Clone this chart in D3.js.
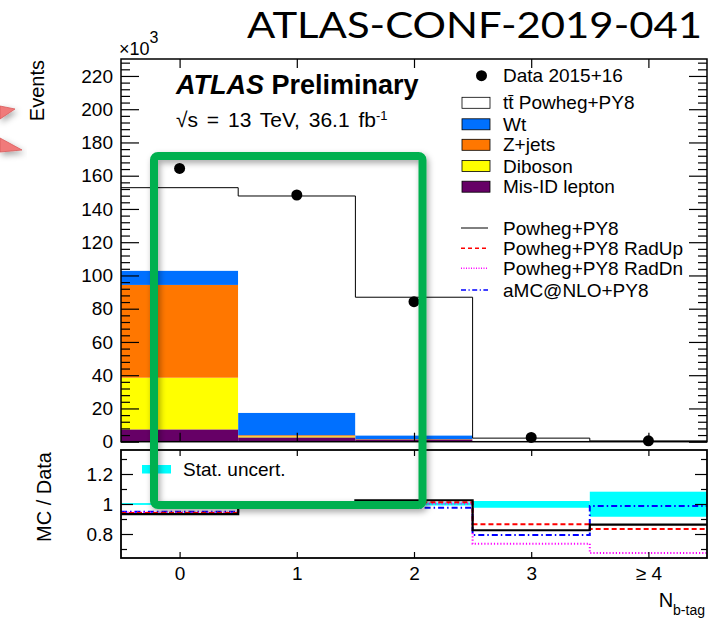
<!DOCTYPE html>
<html>
<head>
<meta charset="utf-8">
<script src="https://cdn.jsdelivr.net/npm/d3@7"></script>
<style>
  html, body { margin: 0; padding: 0; background: #fff; }
  svg { display: block; }
  text { font-family: "Liberation Sans", Arial, Helvetica, sans-serif; fill: #000; }
</style>
</head>
<body>
<svg id="chart" width="718" height="619"></svg>
<script>
// b-tag multiplicity bins
const bins = [0, 1, 2, 3, 4];
const binLabels = ["0", "1", "2", "3", "\u2265 4"];

// Event yields, in units of 10^3
const dataEvents = [164.4, 148.4, 84.2, 2.6, 0.55];
const ttbar      = [49.9, 130.4, 83.1, 1.75, 0.37];
const wt         = [8.6, 13.5, 2.2, 0.3, 0.08];
const zjets      = [55.8, 0.7, 0.1, 0.03, 0.01];
const diboson    = [31.1, 0.6, 0.1, 0.02, 0.0];
const misid      = [7.4, 2.6, 1.4, 0.05, 0.01];

// MC / Data ratios
const ratioPowheg = [0.933, 0.996, 1.025, 0.825, 0.862];
const ratioRadUp  = [0.940, 1.000, 1.011, 0.865, 0.833];
const ratioRadDn  = [0.943, 0.990, 1.004, 0.735, 0.673];
const ratioAMC    = [0.949, 0.985, 0.975, 0.793, 0.987];
const statLo      = [0.994, 0.992, 0.990, 0.975, 0.915];
const statHi      = [1.006, 1.008, 1.010, 1.020, 1.082];

// axis ticks
const yMajor = d3.range(0, 221, 20);
const yMinor = d3.range(0, 231, 4).filter(v => v % 20 !== 0);
const rMajor = [0.8, 1.0, 1.2];
const rMinor = [0.7, 0.9, 1.1, 1.3];

const svg = d3.select("#chart");
const defs = svg.append("defs");
const shadow = defs.append("filter").attr("id", "shadow")
  .attr("x", "-20%").attr("y", "-20%").attr("width", "140%").attr("height", "140%");
shadow.append("feDropShadow").attr("dx", 2).attr("dy", 3)
  .attr("stdDeviation", 3).attr("flood-color", "#000").attr("flood-opacity", 0.35);

const L = 121, R = 707;
const mainTop = 59, mainBot = 441.7;
const ratTop = 450, ratBot = 558;

const x = d3.scaleLinear().domain([-0.5, 4.5]).range([L, R]);
const y = d3.scaleLinear().domain([0, 230.2]).range([mainBot, mainTop]);
const yr = d3.scaleLinear().domain([0.64, 1.36]).range([ratBot, ratTop]);

// ---- title
svg.append("text")
  .attr("x", 247).attr("y", 37.5)
  .attr("textLength", 455).attr("lengthAdjust", "spacingAndGlyphs")
  .style("font-family", "Lato, 'Open Sans', sans-serif")
  .style("font-size", "37px")
  .text("ATLAS-CONF-2019-041");

// ---- decorative arrow fragments at the left edge
const arrowG = svg.append("g").attr("filter", "url(#shadow)");
arrowG.append("polygon").attr("points", "0,106 15,109 0,119")
  .attr("fill", "#f07a7a").attr("stroke", "#d85c5c").attr("stroke-width", 0.8);
arrowG.append("polygon").attr("points", "0,138 22,150 0,152")
  .attr("fill", "#f07a7a").attr("stroke", "#d85c5c").attr("stroke-width", 0.8);

// ---- main panel: stacked histogram
const stackRows = bins.map((b, i) => ({
  bin: b, misid: misid[i], diboson: diboson[i], zjets: zjets[i], wt: wt[i], ttbar: ttbar[i]
}));
const keys = ["misid", "diboson", "zjets", "wt", "ttbar"];
const colors = { misid: "#660066", diboson: "#ffff00", zjets: "#ff7700", wt: "#0070ff", ttbar: "#ffffff" };
const series = d3.stack().keys(keys)(stackRows);

const main = svg.append("g");
series.forEach(s => {
  main.selectAll(null).data(s).enter().append("rect")
    .attr("x", d => x(d.data.bin - 0.5))
    .attr("width", d => x(d.data.bin + 0.5) - x(d.data.bin - 0.5))
    .attr("y", d => y(d[1]))
    .attr("height", d => Math.max(0, y(d[0]) - y(d[1])))
    .attr("fill", colors[s.key]);
});

// total MC outline
const total = bins.map((b, i) => misid[i] + diboson[i] + zjets[i] + wt[i] + ttbar[i]);
function stepPoints(vals, sc) {
  const pts = [];
  bins.forEach((b, i) => { pts.push([x(b - 0.5), sc(vals[i])]); pts.push([x(b + 0.5), sc(vals[i])]); });
  return pts;
}
main.append("path").attr("d", d3.line()(stepPoints(total, y)))
  .attr("fill", "none").attr("stroke", "#000").attr("stroke-width", 1);

// data points
main.selectAll(null).data(bins).enter().append("circle")
  .attr("cx", b => x(b)).attr("cy", (b, i) => y(dataEvents[i])).attr("r", 5.5)
  .attr("fill", "#000");

// main frame
svg.append("rect").attr("x", L).attr("y", mainTop).attr("width", R - L).attr("height", mainBot - mainTop)
  .attr("fill", "none").attr("stroke", "#000").attr("stroke-width", 1.5);

// main axes
function styleAxis(g) {
  g.select(".domain").remove();
  g.selectAll(".tick line").attr("stroke", "#000").attr("stroke-width", 1.2);
  g.selectAll(".tick text").style("font-size", "19px")
    .style("font-family", "'Liberation Sans', Arial, sans-serif");
}
svg.append("g").attr("transform", `translate(${L},0)`)
  .call(d3.axisLeft(y).tickValues(yMajor).tickSize(-18).tickPadding(8)).call(styleAxis);
svg.append("g").attr("transform", `translate(${L},0)`)
  .call(d3.axisLeft(y).tickValues(yMinor).tickSize(-9).tickFormat("")).call(styleAxis);
svg.append("g").attr("transform", `translate(${R},0)`)
  .call(d3.axisRight(y).tickValues(yMajor).tickSize(-18).tickFormat("")).call(styleAxis);
svg.append("g").attr("transform", `translate(${R},0)`)
  .call(d3.axisRight(y).tickValues(yMinor).tickSize(-9).tickFormat("")).call(styleAxis);
svg.append("g").attr("transform", `translate(0,${mainTop})`)
  .call(d3.axisBottom(x).tickValues(bins).tickSize(9).tickFormat("")).call(styleAxis);
svg.append("g").attr("transform", `translate(0,${mainBot})`)
  .call(d3.axisTop(x).tickValues(bins).tickSize(9).tickFormat("")).call(styleAxis);

// ×10^3
const mult = svg.append("text").attr("x", 119).attr("y", 54.5).style("font-size", "18px");
mult.append("tspan").text("\u00d710");
mult.append("tspan").attr("dy", -12).style("font-size", "16px").text("3");

// y title
svg.append("text").attr("transform", "translate(44,60) rotate(-90)")
  .attr("text-anchor", "end").style("font-size", "20px").text("Events");

// ATLAS label
const atl = svg.append("text").attr("x", 176).attr("y", 93.5).style("font-size", "27px").style("font-weight", "bold");
atl.append("tspan").style("font-style", "italic").text("ATLAS");
atl.append("tspan").text(" Preliminary");
const lum = svg.append("text").attr("x", 176).attr("y", 126.5)
  .style("font-size", "21px").style("word-spacing", "3px");
lum.append("tspan").text("\u221as = 13 TeV, 36.1 fb");
lum.append("tspan").attr("dy", -7).style("font-size", "13px").text("-1");

// ---- legend (samples)
const lgX = 462, lgTextX = 503;
svg.append("circle").attr("cx", 481.5).attr("cy", 75.7).attr("r", 5.5).attr("fill", "#000");
svg.append("text").attr("x", lgTextX).attr("y", 82.3).style("font-size", "19px").text("Data 2015+16");

const legendSamples = [
  { key: "ttbar", label: "t\u0074\u0304 Powheg+PY8", cy: 102.8 },
  { key: "wt", label: "Wt", cy: 124.3 },
  { key: "zjets", label: "Z+jets", cy: 144.8 },
  { key: "diboson", label: "Diboson", cy: 166 },
  { key: "misid", label: "Mis-ID lepton", cy: 186.7 }
];
legendSamples.forEach(e => {
  svg.append("rect").attr("x", lgX).attr("y", e.cy - 5.5).attr("width", 28).attr("height", 11)
    .attr("fill", colors[e.key]).attr("stroke", "#000").attr("stroke-width", 0.8);
  svg.append("text").attr("x", lgTextX).attr("y", e.cy + 6.5).style("font-size", "19px").text(e.label);
});

// ---- legend (generators)
const legendGen = [
  { label: "Powheg+PY8", color: "#000", dash: null, cy: 228, w: 1 },
  { label: "Powheg+PY8 RadUp", color: "#ff0000", dash: "4,3", cy: 248.3, w: 1.5 },
  { label: "Powheg+PY8 RadDn", color: "#ff00ff", dash: "1,1.5", cy: 268.3, w: 1.5 },
  { label: "aMC@NLO+PY8", color: "#0000ff", dash: "5,2.5,1.2,2.5", cy: 290, w: 1.5 }
];
legendGen.forEach(e => {
  svg.append("line").attr("x1", 461).attr("x2", 488).attr("y1", e.cy).attr("y2", e.cy)
    .attr("stroke", e.color).attr("stroke-width", e.w).attr("stroke-dasharray", e.dash);
  svg.append("text").attr("x", lgTextX).attr("y", e.cy + 7).style("font-size", "19px").text(e.label);
});

// ---- ratio panel
const rat = svg.append("g");
rat.selectAll(null).data(bins).enter().append("rect")
  .attr("x", b => x(b - 0.5)).attr("width", b => x(b + 0.5) - x(b - 0.5))
  .attr("y", (b, i) => yr(statHi[i])).attr("height", (b, i) => yr(statLo[i]) - yr(statHi[i]))
  .attr("fill", "#00ffff");

const ratioLines = [
  { vals: ratioAMC, color: "#0000ff", dash: "6,3,1.5,3", w: 2 },
  { vals: ratioRadDn, color: "#ff00ff", dash: "1.2,2", w: 2 },
  { vals: ratioRadUp, color: "#ff0000", dash: "5,3", w: 2 },
  { vals: ratioPowheg, color: "#000", dash: null, w: 2.2 }
];
ratioLines.forEach(l => {
  rat.append("path").attr("d", d3.line()(stepPoints(l.vals, yr)))
    .attr("fill", "none").attr("stroke", l.color).attr("stroke-width", l.w)
    .attr("stroke-dasharray", l.dash);
});

svg.append("rect").attr("x", L).attr("y", ratTop).attr("width", R - L).attr("height", ratBot - ratTop)
  .attr("fill", "none").attr("stroke", "#000").attr("stroke-width", 1.8);

svg.append("g").attr("transform", `translate(${L},0)`)
  .call(d3.axisLeft(yr).tickValues(rMajor).tickSize(-12).tickPadding(8)
    .tickFormat(d => d === 1 ? "1" : d3.format(".1f")(d))).call(styleAxis);
svg.append("g").attr("transform", `translate(${L},0)`)
  .call(d3.axisLeft(yr).tickValues(rMinor).tickSize(-6).tickFormat("")).call(styleAxis);
svg.append("g").attr("transform", `translate(${R},0)`)
  .call(d3.axisRight(yr).tickValues(rMajor).tickSize(-12).tickFormat("")).call(styleAxis);
svg.append("g").attr("transform", `translate(${R},0)`)
  .call(d3.axisRight(yr).tickValues(rMinor).tickSize(-6).tickFormat("")).call(styleAxis);
svg.append("g").attr("transform", `translate(0,${ratTop})`)
  .call(d3.axisBottom(x).tickValues(bins).tickSize(6).tickFormat("")).call(styleAxis);
svg.append("g").attr("transform", `translate(0,${ratBot})`)
  .call(d3.axisBottom(x).tickValues(bins).tickSize(-6).tickPadding(9)
    .tickFormat((d, i) => binLabels[i])).call(styleAxis);

// stat. uncertainty legend
svg.append("rect").attr("x", 142).attr("y", 465).attr("width", 29).attr("height", 8.5).attr("fill", "#00ffff");
svg.append("text").attr("x", 183).attr("y", 476).style("font-size", "19px").text("Stat. uncert.");

// ratio y title
svg.append("text").attr("transform", "translate(51,452) rotate(-90)")
  .attr("text-anchor", "end").style("font-size", "20px").text("MC / Data");

// x title
const xt = svg.append("text").attr("x", 705).attr("y", 606.5).attr("text-anchor", "end").style("font-size", "20px");
xt.append("tspan").text("N");
xt.append("tspan").attr("dy", 8).style("font-size", "14px").text("b-tag");

// ---- highlight box
svg.append("rect").attr("x", 154).attr("y", 156).attr("width", 268.5).attr("height", 349)
  .attr("rx", 4).attr("ry", 4)
  .attr("fill", "none").attr("stroke", "#00b050").attr("stroke-width", 8)
  .attr("filter", "url(#shadow)");
</script>
</body>
</html>
